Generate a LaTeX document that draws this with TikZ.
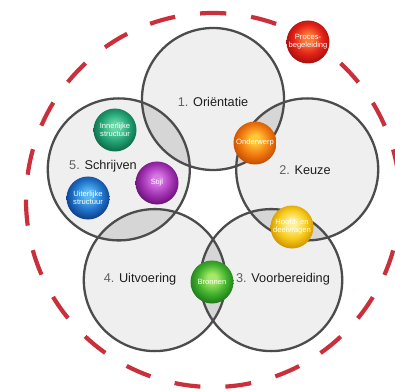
\documentclass[tikz,border=0pt]{standalone}
\usepackage{fontspec}
\setmainfont{Liberation Sans}
\colorlet{glossin}{white}
\colorlet{glossmid}{gray}
\colorlet{glossout}{black}
\pgfdeclareradialshading[glossin,glossmid,glossout]{gloss}{\pgfqpoint{0bp}{5bp}}{color(0bp)=(glossin); color(5bp)=(glossin); color(17bp)=(glossmid); color(27bp)=(glossout); color(50bp)=(glossout)}
\begin{document}
\begin{tikzpicture}[x=1pt,y=1pt,
  phase/.style={fill=circfill},
  outline/.style={draw=circline,line width=2.3pt},
  lens/.style={fill=lensfill},
  bc/.code n args={3}{\definecolor{glossin}{HTML}{#1}\definecolor{glossmid}{HTML}{#2}\definecolor{glossout}{HTML}{#3}},
  ball/.style={circle,minimum size=43pt,inner sep=0pt,shading=gloss,text=white,font=\fontsize{7.6}{8}\selectfont,align=center},
  lbl/.style={font=\fontsize{12.7}{14}\selectfont,text=labeltext}]
\definecolor{circfill}{HTML}{EFEFEF}
\definecolor{lensfill}{HTML}{D6D6D6}
\definecolor{circline}{HTML}{4C4C4C}
\definecolor{dashred}{HTML}{C9303C}
\definecolor{labeltext}{HTML}{1E1E1E}
\definecolor{numgrey}{HTML}{606060}
\useasboundingbox (0,0) rectangle (395,391);
\fill[white] (0,0) rectangle (395,391);
% centres (image y flipped: y = 391 - yimg)
\coordinate (m) at (213,191);
\coordinate (c1) at (213,292);
\coordinate (c2) at (307.2,221.6);
\coordinate (c3) at (271.2,110.9);
\coordinate (c4) at (154.8,110.9);
\coordinate (c5) at (118.8,221.6);
\def\rr{71}
\foreach \c in {c1,c2,c3,c4,c5} \fill[phase] (\c) circle (\rr);
\foreach \a/\b in {c1/c2,c2/c3,c3/c4,c4/c5,c5/c1}{
  \begin{scope}
    \clip (\a) circle (\rr);
    \fill[lens] (\b) circle (\rr);
  \end{scope}}
\foreach \c in {c1,c2,c3,c4,c5} \draw[outline] (\c) circle (\rr);
% dashed outer circle
\draw[dashred,line width=4.2pt,dash pattern=on 26pt off 25.08pt,dash phase=13pt]
  (m) ++(0,187) arc[start angle=90,end angle=450,radius=187];
% labels
\node[lbl] (l1) at (213,289) {\textcolor{numgrey}{1.} Oriëntatie};
\node[lbl] (l2) at (305,221) {\textcolor{numgrey}{2.} Keuze};
\node[lbl] (l3) at (283,112) {\textcolor{numgrey}{3.} Voorbereiding};
\node[lbl] (l4) at (140,112) {\textcolor{numgrey}{4.} Uitvoering};
\node[lbl] (l5) at (103,225) {\textcolor{numgrey}{5.} Schrijven};
% balls
\node[bc={FF7A3A}{E42418}{A80E0E},ball] (b1) at (308,349) {Proces-\\begeleiding};
\node[bc={FFC838}{F27A10}{C24E00},ball] (b2) at (255,248) {Onderwerp};
\node[bc={FFF296}{F7CA1C}{D09400},ball] (b3) at (292,164) {Hoofd- en\\deelvragen};
\node[bc={A8E868}{42B22E}{1E7A18},ball] (b4) at (212,109) {Bronnen};
\node[bc={66D6A6}{22A274}{0E6A48},ball] (b5) at (115,261) {Innerlijke\\structuur};
\node[bc={D878E6}{A434B4}{6A1078},ball] (b6) at (157,208) {Stijl};
\node[bc={58B8F4}{2074CA}{0E3E8A},ball] (b7) at (88,193) {Uiterlijke\\structuur};
\end{tikzpicture}
\end{document}
